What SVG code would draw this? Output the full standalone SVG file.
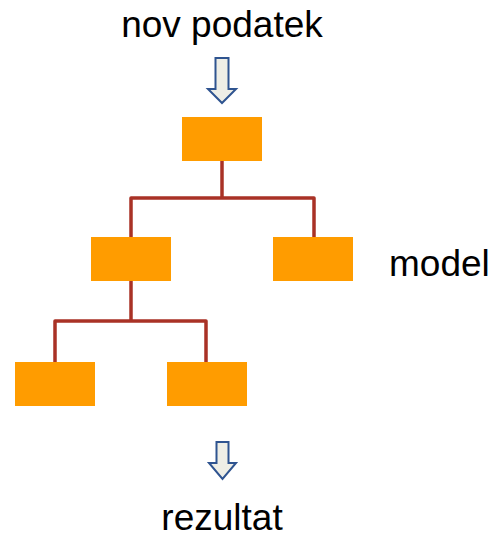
<svg xmlns="http://www.w3.org/2000/svg" width="495" height="536" viewBox="0 0 495 536">
<style>
.node{fill:#FF9C00}
.conn{fill:none;stroke:#A93226;stroke-width:3.5;stroke-linejoin:round}
.arr{fill:#EEEEE6;stroke:#2F5490;stroke-width:2;stroke-linejoin:miter}
.lbl{font-family:"Liberation Sans",Arial,sans-serif;font-size:37px;fill:#000}
</style>
<rect width="495" height="536" fill="#fff"/>
<text class="lbl" x="222" y="37" text-anchor="middle">nov podatek</text>
<text class="lbl" x="389" y="276">model</text>
<text class="lbl" x="222" y="530" text-anchor="middle">rezultat</text>
<g id="arrow-in"><path class="arr" d="M215.5,58 H228.5 V89 H236 L222,103 L208,89 H215.5 Z"/></g>
<g id="arrow-out"><path class="arr" d="M216.5,442 H228.5 V463 H236 L222.5,479 L209,463 H216.5 Z"/></g>
<g id="connectors">
<path class="conn" d="M222,161 V198"/>
<path class="conn" d="M131,237 V198 H314 V237"/>
<path class="conn" d="M131,281 V321"/>
<path class="conn" d="M55,362 V321 H206 V362"/>
</g>
<g id="root"><rect class="node" x="182" y="117" width="80" height="44"/></g>
<g id="mid-left"><rect class="node" x="91" y="237" width="80" height="44"/></g>
<g id="mid-right"><rect class="node" x="273" y="237" width="80" height="44"/></g>
<g id="leaf-left"><rect class="node" x="15" y="362" width="80" height="44"/></g>
<g id="leaf-right"><rect class="node" x="167" y="362" width="80" height="44"/></g>
</svg>
